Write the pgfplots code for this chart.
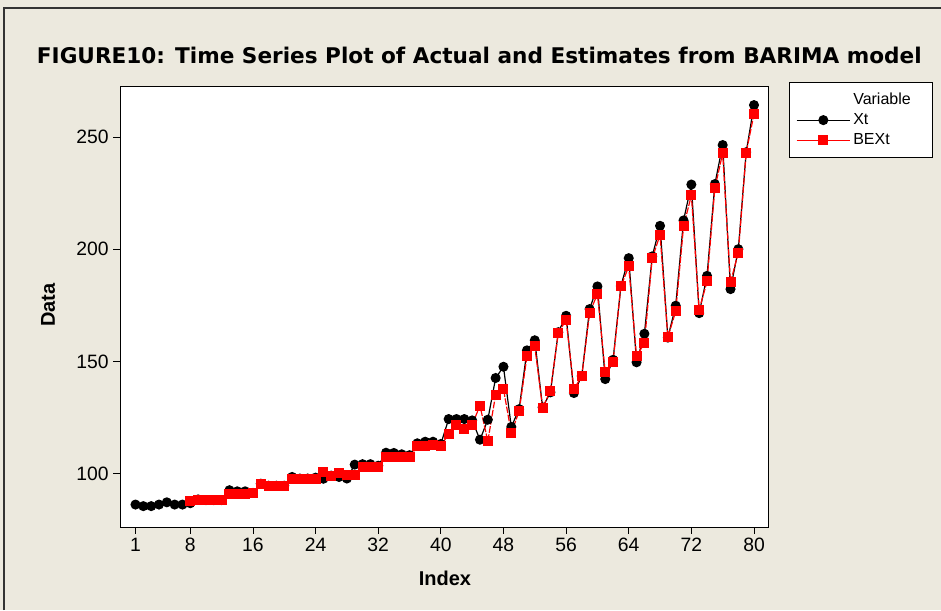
\documentclass[border=0pt]{standalone}
\usepackage{pgfplots}
\pgfplotsset{compat=1.18}
\usepackage{fontspec}
\setmainfont{Liberation Sans}
\newfontfamily\titlefont{DejaVu Sans}
\definecolor{bgbeige}{RGB}{236,233,222}
\definecolor{mtred}{RGB}{255,0,0}

% actual series
\pgfplotstableread{
i v
1 86.2
2 85.5
3 85.5
4 86.2
5 87.2
6 86.2
7 86.2
8 86.8
9 88.5
10 88.2
11 88.2
12 88.2
13 92.6
14 92.1
15 92.1
16 91.4
17 95.5
18 94.6
19 94.6
20 94.6
21 98.5
22 97.8
23 97.8
24 98.2
25 97.7
26 99.1
27 98.5
28 97.8
29 104.0
30 104.2
31 104.2
32 103.5
33 109.3
34 109.2
35 108.6
36 108.2
37 113.5
38 114.2
39 114.2
40 113.2
41 124.3
42 124.3
43 124.3
44 123.7
45 115.1
46 124.0
47 142.6
48 147.6
49 120.8
50 128.7
51 154.9
52 159.4
53 129.5
54 136.2
55 163.0
56 170.3
57 135.9
58 143.5
59 173.3
60 183.4
61 142.1
62 150.7
63 183.6
64 196.0
65 149.6
66 162.3
67 196.8
68 210.4
69 160.6
70 174.8
71 212.8
72 228.8
73 171.5
74 188.1
75 229.0
76 246.4
77 182.2
78 200.0
79 243.2
80 264.2
}\xt

% BARIMA estimates
\pgfplotstableread{
i v
8 87.7
9 88.1
10 88.1
11 88.1
12 88.1
13 91.1
14 91.1
15 90.7
16 91.4
17 95.5
18 94.4
19 94.4
20 94.4
21 97.6
22 97.6
23 97.6
24 97.6
25 100.6
26 99.1
27 100.3
28 99.5
29 99.5
30 102.8
31 102.8
32 102.8
33 107.3
34 107.4
35 107.4
36 107.4
37 112.2
38 112.5
39 112.9
40 112.2
41 117.8
42 121.8
43 119.9
44 121.8
45 130.3
46 114.4
47 135.2
48 137.7
49 118.1
50 127.8
51 152.2
52 156.7
53 129.2
54 137.0
55 162.6
56 168.5
57 137.7
58 143.3
59 171.5
60 180.1
61 145.1
62 149.8
63 183.4
64 192.3
65 152.2
66 158.2
67 196.0
68 206.4
69 160.8
70 172.3
71 210.1
72 224.0
73 173.0
74 185.6
75 227.2
76 242.7
77 185.2
78 198.5
79 243.0
80 260.2
}\bext

\begin{document}
\begin{tikzpicture}
\useasboundingbox (0pt,0pt) rectangle (705.75pt,-457.5pt);
\fill[bgbeige] (0pt,0pt) rectangle (705.75pt,-457.5pt);
\draw[black!80, line width=0.8pt] (3pt,-457.5pt) -- (3pt,-6pt) -- (705.75pt,-6pt);
\node[font=\titlefont\fontsize{16.2}{19}\selectfont\bfseries] at (359.5pt,-41.25pt)
  {FIGURE10: Time Series Plot of Actual and Estimates from BARIMA model};

\begin{axis}[
    at={(90pt,-395.25pt)}, anchor=south west,
    scale only axis,
    width=486pt, height=330.75pt,
    xmin=-0.98, xmax=81.79,
    ymin=76.2, ymax=272.7,
    xtick={1,8,16,24,32,40,48,56,64,72,80},
    ytick={100,150,200,250},
    tick align=outside, tick pos=left,
    major tick length=5pt,
    axis line style={black, line width=0.6pt},
    tick style={black, line width=0.6pt},
    axis background/.style={fill=white},
    /pgf/number format/assume math mode=true,
    tick label style={font=\fontsize{14.5}{17}\selectfont},
    xlabel={Index}, ylabel={Data},
    label style={font=\fontsize{15}{18}\selectfont\bfseries},
    xlabel style={at={(axis description cs:0.5015,-0.1156)}, anchor=center},
    ylabel style={at={(axis description cs:-0.111,0.503)}, anchor=center},
    legend style={at={(axis description cs:1.0324,1.0084)}, anchor=north west,
      draw=black, fill=white, line width=0.6pt,
      font=\fontsize{12}{14}\selectfont,
      inner xsep=5pt, inner ysep=5.5pt, row sep=1.5pt,
      cells={anchor=west}},
    legend image code/.code={
      \draw[mark repeat=2, mark phase=2, solid, #1]
        plot coordinates {(0pt,0pt) (20pt,0pt) (40pt,0pt)};},
  ]
  \addlegendimage{empty legend}
  \addlegendentry{Variable\hspace*{9pt}}
  \addplot[black, line width=0.9pt, mark=*, mark size=3.3pt,
    mark options={solid, fill=black}] table[x=i, y=v] {\xt};
  \addlegendentry{Xt}
  \addplot[mtred, line width=0.9pt, dash pattern=on 5pt off 1.2pt,
    mark=square*, mark size=3.3pt,
    mark options={solid, fill=mtred}] table[x=i, y=v] {\bext};
  \addlegendentry{BEXt}
\end{axis}
\end{tikzpicture}
\end{document}
